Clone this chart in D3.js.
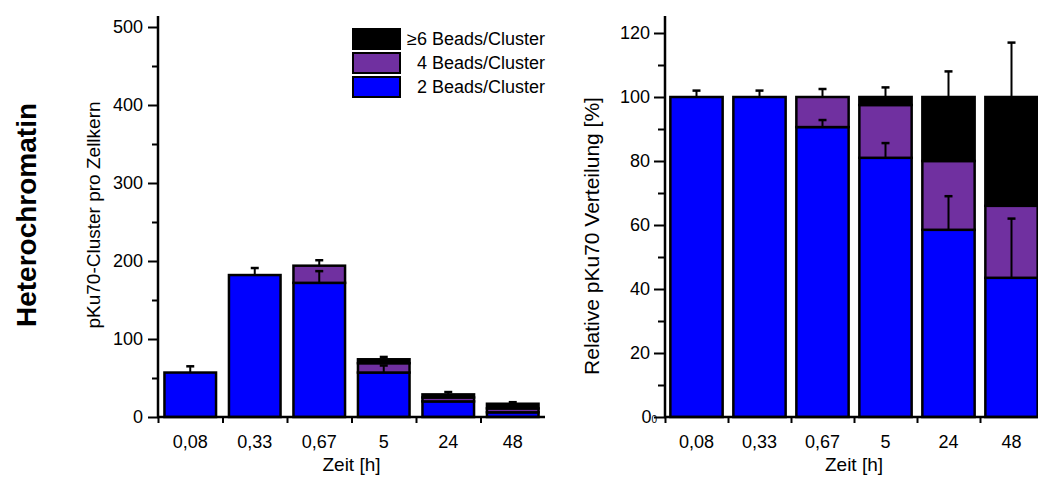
<!DOCTYPE html>
<html>
<head>
<meta charset="utf-8">
<script src="https://cdn.jsdelivr.net/npm/d3@7"></script>
<style>
  body { margin: 0; background: #fff; }
  svg { display: block; font-family: "Liberation Sans", Arial, sans-serif; }
</style>
</head>
<body>
<svg id="chart" width="1038" height="477"></svg>
<script>
// categories (time points in hours)
var categories = ["0,08", "0,33", "0,67", "5", "24", "48"];

// left panel: pKu70 clusters per nucleus
var countTwo  = [57, 182, 172, 57, 20, 6];
var countFour = [0, 0, 22, 12, 5, 5];
var countSix  = [0, 0, 0, 5, 4, 6];
var countErrTotal = [8, 9, 7, 3, 3, 2];
var countErrTwo   = [null, null, 15, 9, null, null];

// right panel: relative distribution [%]
var percentTwo  = [100, 100, 90.6, 81, 58.5, 43.5];
var percentFour = [0, 0, 9.4, 16.5, 21.5, 22.5];
var percentSix  = [0, 0, 0, 2.5, 20, 34];
var percentErrTotal = [2, 2, 2.5, 3, 8, 17];
var percentErrTwo   = [null, null, 2.2, 4.6, 10.5, 18.5];

var countTicks = [0, 100, 200, 300, 400, 500];
var percentTicks = [0, 20, 40, 60, 80, 100, 120];

var seriesKeys = ["two", "four", "six"];
var colors = { two: "#0000ff", four: "#7030a0", six: "#000000" };
var legendLabels = ["\u22656 Beads/Cluster", "4 Beads/Cluster", "2 Beads/Cluster"];
var legendKeys = ["six", "four", "two"];

var svg = d3.select("#chart");

function buildRows(two, four, six, errTotal, errTwo) {
  return categories.map(function(c, i) {
    return { cat: c, two: two[i], four: four[i], six: six[i],
             errTotal: errTotal[i], errTwo: errTwo[i] };
  });
}

function drawPanel(opt) {
  var rows = buildRows(opt.two, opt.four, opt.six, opt.errTotal, opt.errTwo);
  var g = svg.append("g");

  var x = d3.scaleBand().domain(categories).range([opt.x0, opt.x1]).padding(0);
  var xEdge = d3.scaleLinear().domain([0, categories.length]).range([opt.x0, opt.x1]);
  var y = d3.scaleLinear().domain([0, opt.yMax]).range([opt.yBottom, opt.yTop]);
  var barW = x.bandwidth() * opt.barFrac;

  var stacked = d3.stack().keys(seriesKeys)(rows);

  // bars
  stacked.forEach(function(layer) {
    g.append("g")
      .selectAll("rect")
      .data(layer.filter(function(d) { return d[1] - d[0] > 0; }))
      .enter().append("rect")
        .attr("x", function(d) { return x(d.data.cat) + (x.bandwidth() - barW) / 2; })
        .attr("width", barW)
        .attr("y", function(d) { return y(d[1]); })
        .attr("height", function(d) { return y(d[0]) - y(d[1]); })
        .attr("fill", colors[layer.key])
        .attr("stroke", "#000")
        .attr("stroke-width", 2.5);
  });

  // error bars (only upper whisker)
  var errs = [];
  rows.forEach(function(r) {
    var total = r.two + r.four + r.six;
    errs.push({ cat: r.cat, base: total, err: r.errTotal });
    if (r.errTwo != null) errs.push({ cat: r.cat, base: r.two, err: r.errTwo });
  });
  var eg = g.append("g").attr("stroke", "#000");
  eg.selectAll("line.err")
    .data(errs).enter().append("line")
      .attr("class", "err")
      .attr("x1", function(d) { return x(d.cat) + x.bandwidth() / 2; })
      .attr("x2", function(d) { return x(d.cat) + x.bandwidth() / 2; })
      .attr("y1", function(d) { return y(d.base); })
      .attr("y2", function(d) { return y(d.base + d.err); })
      .attr("stroke-width", 2);
  eg.selectAll("line.cap")
    .data(errs).enter().append("line")
      .attr("class", "cap")
      .attr("x1", function(d) { return x(d.cat) + x.bandwidth() / 2 - 4; })
      .attr("x2", function(d) { return x(d.cat) + x.bandwidth() / 2 + 4; })
      .attr("y1", function(d) { return y(d.base + d.err); })
      .attr("y2", function(d) { return y(d.base + d.err); })
      .attr("stroke-width", 2.5);

  // y axis: major + minor ticks
  var yAxis = d3.axisLeft(y).tickValues(opt.ticks).tickSize(opt.majorLen).tickPadding(opt.pad);
  var ya = g.append("g")
    .attr("transform", "translate(" + opt.x0 + ",0)")
    .call(yAxis);
  ya.select(".domain").remove();
  ya.selectAll(".tick line").attr("stroke-width", 2);
  ya.selectAll(".tick text").attr("font-size", 18).attr("fill", "#000")
    .attr("font-family", "'Liberation Sans', Arial, sans-serif");

  var ym = g.append("g")
    .attr("transform", "translate(" + opt.x0 + ",0)")
    .call(d3.axisLeft(y).tickValues(opt.minor).tickSize(opt.minorLen).tickFormat(""));
  ym.select(".domain").remove();
  ym.selectAll(".tick line").attr("stroke-width", 2);

  g.append("line")
    .attr("x1", opt.x0).attr("x2", opt.x0)
    .attr("y1", opt.axisTop).attr("y2", opt.yBottom + 1)
    .attr("stroke", "#000").attr("stroke-width", 2.5);

  // x axis: boundary ticks + centered labels
  var xt = g.append("g")
    .attr("transform", "translate(0," + opt.yBottom + ")")
    .call(d3.axisBottom(xEdge).tickValues(d3.range(0, categories.length)).tickSize(6).tickFormat(""));
  xt.select(".domain").remove();
  xt.selectAll(".tick line").attr("stroke-width", 2);

  var xl = g.append("g")
    .attr("transform", "translate(0," + opt.yBottom + ")")
    .call(d3.axisBottom(x).tickSize(0).tickPadding(18));
  xl.select(".domain").remove();
  xl.selectAll(".tick text").attr("font-size", 18).attr("fill", "#000")
    .attr("font-family", "'Liberation Sans', Arial, sans-serif");

  g.append("line")
    .attr("x1", opt.x0 - 1).attr("x2", opt.x1)
    .attr("y1", opt.yBottom).attr("y2", opt.yBottom)
    .attr("stroke", "#000").attr("stroke-width", 2.5);

  g.append("text")
    .attr("x", (opt.x0 + opt.x1) / 2)
    .attr("y", 471)
    .attr("text-anchor", "middle")
    .attr("font-size", 19)
    .text("Zeit [h]");

  g.append("text")
    .attr("transform", "translate(" + opt.titleX + "," + opt.titleY + ") rotate(-90)")
    .attr("text-anchor", "middle")
    .attr("dy", "0.35em")
    .attr("font-size", opt.titleSize)
    .text(opt.title);

  return { g: g, y: y, axis: ya };
}

// left panel
drawPanel({
  two: countTwo, four: countFour, six: countSix,
  errTotal: countErrTotal, errTwo: countErrTwo,
  x0: 158, x1: 545, yBottom: 417, yTop: 27, axisTop: 16, yMax: 500,
  ticks: countTicks, minor: [50, 150, 250, 350, 450],
  majorLen: 10, minorLen: 6, pad: 5, barFrac: 0.8,
  title: "pKu70-Cluster pro Zellkern", titleX: 93, titleY: 215, titleSize: 19
});

// right panel
var right = drawPanel({
  two: percentTwo, four: percentFour, six: percentSix,
  errTotal: percentErrTotal, errTwo: percentErrTwo,
  x0: 665, x1: 1043, yBottom: 417, yTop: 33, axisTop: 16, yMax: 120,
  ticks: percentTicks, minor: [10, 30, 50, 70, 90, 110],
  majorLen: 11, minorLen: 7, pad: 4, barFrac: 0.83,
  title: "Relative pKu70 Verteilung [%]", titleX: 592, titleY: 236, titleSize: 21
});

// odd little subscript next to the zero label on the right axis
right.axis.selectAll(".tick text")
  .filter(function(d) { return d === 0; })
  .attr("x", -8)
  .append("tspan")
    .attr("font-size", 10)
    .text("0");

// legend
var legend = svg.append("g");
legendKeys.forEach(function(k, i) {
  legend.append("rect")
    .attr("x", 353).attr("y", 29 + i * 24)
    .attr("width", 47).attr("height", 20)
    .attr("fill", colors[k])
    .attr("stroke", "#000").attr("stroke-width", 2);
  legend.append("text")
    .attr("x", 545).attr("y", 39 + i * 24)
    .attr("dy", "0.35em")
    .attr("text-anchor", "end")
    .attr("font-size", 18)
    .text(legendLabels[i]);
});

// row label
svg.append("text")
  .attr("transform", "translate(26,215) rotate(-90)")
  .attr("text-anchor", "middle")
  .attr("dy", "0.35em")
  .attr("font-size", 28)
  .attr("font-weight", "bold")
  .text("Heterochromatin");
</script>
</body>
</html>
